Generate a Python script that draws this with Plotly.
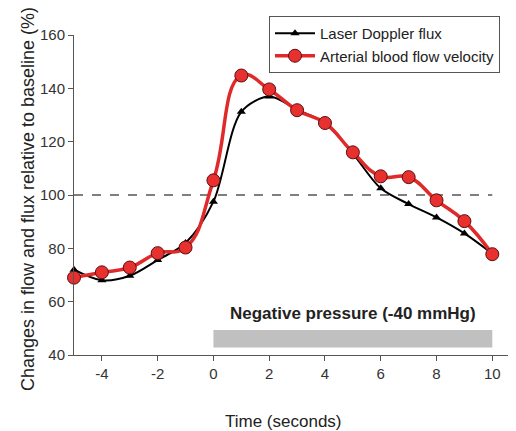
import plotly.graph_objects as go

time_s = [-5, -4, -3, -2, -1, 0, 1, 2, 3, 4, 5, 6, 7, 8, 9, 10]
laser_flux = [72, 68, 69.7, 75.6, 82, 97.5, 131.2, 136.9, 132, 127, 115.5, 102.5, 96.6, 91.6, 85.6, 78]
arterial_velocity = [69, 71, 72.8, 78.2, 80.3, 105.5, 144.8, 139.6, 131.8, 127, 116, 107, 106.7, 98, 90.2, 77.8]
x_ticks = [-4, -2, 0, 2, 4, 6, 8, 10]
y_ticks = [40, 60, 80, 100, 120, 140, 160]
baseline = 100
pressure_start, pressure_end = 0, 10
pressure_label = "Negative pressure (-40 mmHg)"

# page body has an 8px margin, so the figure is 8px smaller than the window
W, H = 508, 423

fig = go.Figure()

# shaded bar showing when negative pressure is applied
fig.add_shape(type="rect", x0=pressure_start, x1=pressure_end, y0=42.8, y1=49.4,
              fillcolor="#c0c0c0", line_width=0, layer="below")
fig.add_shape(type="line", x0=time_s[0], x1=time_s[-1], y0=baseline, y1=baseline,
              line=dict(color="#555555", width=1.5, dash="dash"), layer="below")

fig.add_trace(go.Scatter(
    x=time_s, y=laser_flux, name="Laser Doppler flux", cliponaxis=False,
    mode="lines+markers", line=dict(color="black", width=2, shape="spline", smoothing=0.9),
    marker=dict(symbol="triangle-up", size=8, color="black"),
))
fig.add_trace(go.Scatter(
    x=time_s, y=arterial_velocity, name="Arterial blood flow velocity", cliponaxis=False,
    mode="lines+markers", line=dict(color="#e02a2a", width=3.5, shape="spline", smoothing=1.3),
    marker=dict(symbol="circle", size=13, color="#e8302e", line=dict(color="#5a1010", width=1)),
))

fig.add_annotation(x=(pressure_start + pressure_end) / 2, y=55.5, text="<b>" + pressure_label + "</b>",
                   showarrow=False, font=dict(size=17, color="#222222"))
fig.add_annotation(x=2.5, y=-0.209, xref="x", yref="paper", yanchor="middle",
                   text="Time (seconds)", showarrow=False, font=dict(size=17, color="#222222"))
fig.add_annotation(x=-0.131, y=0.4875, xref="paper", yref="paper",
                   text="Changes in flow and flux relative to baseline (%)", textangle=-90,
                   showarrow=False, font=dict(size=18, color="#222222"))

fig.update_layout(
    width=W, height=H,
    margin=dict(l=66, r=0, t=27, b=76, autoexpand=False),
    plot_bgcolor="white", paper_bgcolor="white",
    font=dict(family="Liberation Sans, Arial, sans-serif", color="#333333"),
    showlegend=True,
    legend=dict(x=261 / W, y=1 - 8 / H, xref="container", yref="container",
                xanchor="left", yanchor="top", itemwidth=40,
                bordercolor="#555555", borderwidth=1, bgcolor="white",
                font=dict(size=15, color="#222222"), tracegroupgap=0),
    xaxis=dict(range=[-5, 10.85], tickvals=x_ticks, ticktext=[str(v) for v in x_ticks],
               showline=True, linecolor="#555555", linewidth=1,
               ticks="outside", ticklen=5, tickcolor="#555555",
               showgrid=False, zeroline=False, tickfont=dict(size=15), automargin=False),
    yaxis=dict(range=[40, 160], tickvals=y_ticks,
               showline=True, linecolor="#555555", linewidth=1,
               ticks="outside", ticklen=5, tickcolor="#555555",
               showgrid=False, zeroline=False, tickfont=dict(size=15), automargin=False),
)

fig.write_html("out.html")
